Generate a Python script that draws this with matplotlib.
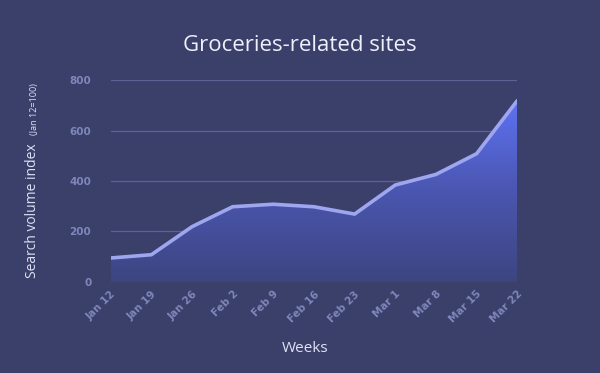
import numpy as np
import matplotlib.pyplot as plt
from matplotlib.colors import LinearSegmentedColormap
from matplotlib.font_manager import FontProperties

# data
weeks = ['Jan 12', 'Jan 19', 'Jan 26', 'Feb 2', 'Feb 9', 'Feb 16',
         'Feb 23', 'Mar 1', 'Mar 8', 'Mar 15', 'Mar 22']
index = [95, 108, 219, 298, 308, 298, 269, 384, 426, 508, 718]
yticks = [0, 200, 400, 600, 800]

bg = '#3a406a'
tick_col = '#7f87ba'

fig = plt.figure(figsize=(6, 3.73), dpi=100, facecolor=bg)
ax = fig.add_axes([0.1845, 0.244, 0.6775, 0.5415], facecolor=bg)

x = np.arange(len(weeks))
y = np.array(index)

# gradient fill under the line
fill = ax.fill_between(x, y, 0, color='none', lw=0)
cmap = LinearSegmentedColormap.from_list('g', ['#3d4580', '#4a56b0', '#5e72f4'])
grad = np.linspace(0, 1, 256).reshape(-1, 1)
im = ax.imshow(grad, cmap=cmap, origin='lower', aspect='auto',
               extent=[0, len(weeks) - 1, 0, max(index)], zorder=1)
im.set_clip_path(fill.get_paths()[0], transform=ax.transData)

ax.plot(x, y, color='#9ea6f0', lw=2.6, zorder=3, solid_capstyle='round')

tickfont = FontProperties(family='DejaVu Sans', weight='bold', size=7.5)
ax.set_xlim(0, len(weeks) - 1)
ax.set_ylim(0, 800)
ax.set_yticks(yticks)
ax.set_yticklabels([str(v) for v in yticks], fontproperties=tickfont, color=tick_col)
ax.set_xticks(x)
ax.set_xticklabels(weeks, rotation=45, ha='right', rotation_mode='anchor',
                   fontproperties=tickfont, color=tick_col)
ax.tick_params(axis='y', length=0, pad=14)
ax.tick_params(axis='x', length=0, pad=5)
for s in ax.spines.values():
    s.set_visible(False)
ax.grid(axis='y', color='#5b6296', lw=0.9, zorder=0)
ax.set_axisbelow(True)

fig.text(0.5, 0.877, 'Groceries-related sites', ha='center', va='center',
         fontsize=16, color='#eef0fb', family='Open Sans')
fig.text(305 / 600, 1 - 349 / 373, 'Weeks', ha='center', va='center',
         fontsize=11, color='#dfe2f5', family='Open Sans')
ylab = fig.text(33 / 600, 1 - 278 / 373, 'Search volume index', rotation=90,
                ha='center', va='bottom', fontsize=10, color='#dfe2f5', family='Open Sans')
fig.canvas.draw()
fig.text(35 / 600, 0, '(Jan 12=100)', rotation=90, ha='center', va='bottom',
         fontsize=6.5, color='#dfe2f5', family='Open Sans',
         transform=fig.transFigure)
top = ylab.get_window_extent().y1 / fig.bbox.height
fig.texts[-1].set_y(top + 8 / 373)

fig.savefig('out.png', dpi=100, facecolor=bg)
